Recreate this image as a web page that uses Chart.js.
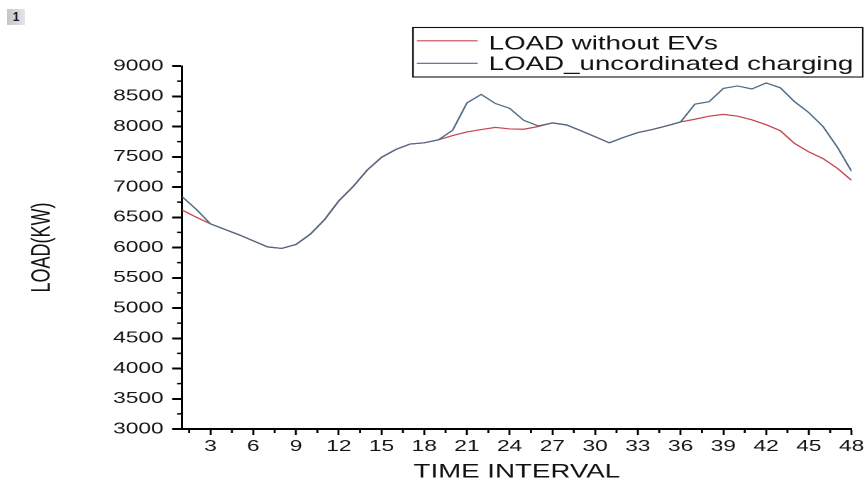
<!DOCTYPE html>
<html>
<head>
<meta charset="utf-8">
<script src="https://cdn.jsdelivr.net/npm/chart.js@4.4.1/dist/chart.umd.min.js"></script>
<style>
html,body{margin:0;padding:0;background:#fff;width:867px;height:485px;overflow:hidden;}
#wrap{position:absolute;left:0;top:0;width:611px;height:485px;transform:scaleX(1.41899);transform-origin:0 0;}
#badge{position:absolute;left:7px;top:9px;width:18px;height:16px;background:linear-gradient(90deg,#c6c6c6,#e6e6e6);font:bold 12px 'Liberation Sans',Arial,sans-serif;color:#1a1a1a;text-align:center;line-height:16px;}
</style>
</head>
<body>
<div id="wrap"><canvas id="c" width="611" height="485"></canvas></div>
<div id="badge">1</div>
<script>
// ---- data ----
const intervals = [1,2,3,4,5,6,7,8,9,10,11,12,13,14,15,16,17,18,19,20,21,22,23,24,
                   25,26,27,28,29,30,31,32,33,34,35,36,37,38,39,40,41,42,43,44,45,46,47,48];
const loadWithoutEVs = [6620,6500,6390,6300,6210,6110,6010,5985,6050,6220,6460,6770,
                        7005,7280,7490,7620,7710,7730,7780,7850,7910,7950,7985,7960,
                        7955,8000,8060,8025,7930,7830,7730,7820,7900,7950,8010,8075,
                        8120,8170,8200,8170,8110,8030,7930,7720,7580,7470,7310,7110];
const loadUncoordinated = [6840,6630,6390,6300,6210,6110,6010,5985,6050,6220,6460,6770,
                           7005,7280,7490,7620,7710,7730,7780,7940,8390,8530,8380,8300,
                           8100,8010,8060,8025,7930,7830,7730,7820,7900,7950,8010,8075,
                           8370,8410,8630,8670,8620,8720,8640,8410,8230,8000,7660,7260];
const seriesLabels = ['LOAD without EVs', 'LOAD_uncordinated charging'];
const xTickValues = [3,6,9,12,15,18,21,24,27,30,33,36,39,42,45,48];
const xMinorTicks = [1.5,4.5,7.5,10.5,13.5,16.5,19.5,22.5,25.5,28.5,31.5,34.5,37.5,40.5,43.5,46.5];
const yTickValues = [3000,3500,4000,4500,5000,5500,6000,6500,7000,7500,8000,8500,9000];
const yMinorTicks = [3250,3750,4250,4750,5250,5750,6250,6750,7250,7750,8250,8750];
const xTitle = 'TIME INTERVAL';
const yTitle = 'LOAD(KW)';

const RED = '#c4474f';
const BLUE = '#4d6b85';
const FONT = "'Liberation Sans', Arial, sans-serif";

const toPoints = arr => intervals.map((t, i) => ({x: t, y: arr[i]}));

const minorTicksPlugin = {
  id: 'minorTicks',
  afterDraw(chart) {
    const ctx = chart.ctx;
    const xs = chart.scales.x, ys = chart.scales.y;
    const area = chart.chartArea;
    ctx.save();
    ctx.strokeStyle = '#000';
    ctx.lineWidth = 1.4;
    ctx.beginPath();
    xMinorTicks.forEach(v => {
      const px = xs.getPixelForValue(v);
      ctx.moveTo(px, area.bottom); ctx.lineTo(px, area.bottom + 4);
    });
    ctx.stroke();
    ctx.lineWidth = 1.6;
    ctx.beginPath();
    yMinorTicks.forEach(v => {
      const py = ys.getPixelForValue(v);
      ctx.moveTo(area.left - 3.5, py); ctx.lineTo(area.left, py);
    });
    ctx.stroke();
    ctx.restore();
  }
};

const boxLegendPlugin = {
  id: 'boxLegend',
  afterDraw(chart) {
    const ctx = chart.ctx;
    const order = [1, 0]; // red first, then blue
    ctx.save();
    ctx.strokeStyle = '#111';
    ctx.lineWidth = 1.1;
    ctx.strokeRect(291.0, 27.5, 317.0, 49.5);
    const rowsY = [40.8, 63.3];
    const baseY = [49.4, 70.0];
    order.forEach((di, r) => {
      const ds = chart.data.datasets[di];
      ctx.strokeStyle = ds.borderColor;
      ctx.lineWidth = 1.2;
      ctx.beginPath();
      ctx.moveTo(293.8, rowsY[r]); ctx.lineTo(336.6, rowsY[r]);
      ctx.stroke();
      ctx.fillStyle = '#111';
      ctx.font = '19.5px ' + FONT;
      ctx.textBaseline = 'alphabetic';
      ctx.textAlign = 'left';
      ctx.fillText(ds.label, 344.4, baseY[r]);
    });
    ctx.restore();
  }
};

new Chart(document.getElementById('c'), {
  type: 'line',
  data: {
    datasets: [
      { label: seriesLabels[1], data: toPoints(loadUncoordinated), borderColor: BLUE,
        borderWidth: 1.2, pointRadius: 0, tension: 0, fill: false },
      { label: seriesLabels[0], data: toPoints(loadWithoutEVs), borderColor: RED,
        borderWidth: 1.2, pointRadius: 0, tension: 0, fill: false }
    ]
  },
  options: {
    responsive: false,
    devicePixelRatio: 2,
    animation: false,
    layout: { padding: { left: 0, right: 10.6, top: 66, bottom: 0 } },
    plugins: { legend: { display: false }, tooltip: { enabled: false } },
    scales: {
      x: {
        type: 'linear', min: 1, max: 48,
        afterBuildTicks: s => { s.ticks = xTickValues.map(v => ({ value: v })); },
        afterFit: s => { s.height = 56; },
        border: { display: true, color: '#000', width: 2 },
        grid: { display: true, drawOnChartArea: false, drawTicks: true, tickLength: 6,
                tickColor: '#000', tickWidth: 1.4 },
        ticks: { autoSkip: false, maxRotation: 0, padding: 2, color: '#141414',
                 font: { family: FONT, size: 16 }, callback: v => String(v) },
        title: { display: true, text: xTitle, color: '#111',
                 font: { family: FONT, size: 19.5 }, padding: { top: 0, bottom: 1.3 } }
      },
      y: {
        type: 'linear', min: 3000, max: 9000,
        afterBuildTicks: s => { s.ticks = yTickValues.map(v => ({ value: v })); },
        afterFit: s => { s.width = 128.3; },
        border: { display: true, color: '#000', width: 1.5 },
        grid: { display: true, drawOnChartArea: false, drawTicks: true, tickLength: 7,
                tickColor: '#000', tickWidth: 2 },
        ticks: { autoSkip: false, padding: 6, color: '#141414',
                 font: { family: FONT, size: 16 }, callback: v => String(v) },
        title: { display: true, text: yTitle, color: '#111',
                 font: { family: FONT, size: 18 }, padding: { top: 19, bottom: 0 } }
      }
    }
  },
  plugins: [minorTicksPlugin, boxLegendPlugin]
});
</script>
</body>
</html>
